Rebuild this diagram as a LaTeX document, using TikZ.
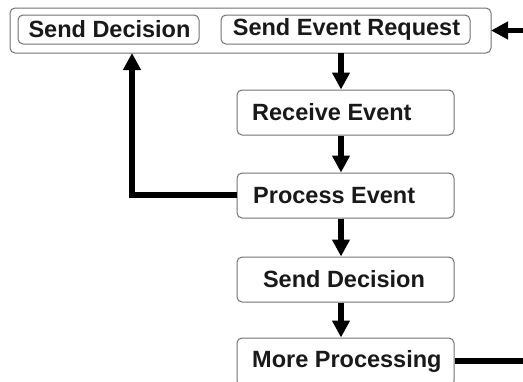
\documentclass[tikz,border=0pt]{standalone}
\usepackage{fontspec}
\setmainfont{Liberation Sans}
\usetikzlibrary{arrows.meta}
\begin{document}
\begin{tikzpicture}[x=1pt,y=-1pt,
  box/.style={draw=black!55,line width=1pt,rounded corners=5pt,fill=white},
  lbl/.style={font=\fontsize{23.5}{26}\selectfont\bfseries,inner sep=0pt,text=black!90},
  flow/.style={line width=5.5pt,-{Triangle[width=17pt,length=17pt]}},
  plain/.style={line width=5.5pt}]
\useasboundingbox (0,0) rectangle (523,381);
\clip (0,0) rectangle (523,381);
% top container
\draw[box] (10,8) rectangle (491,53);
\node[box,minimum width=181pt,minimum height=29pt] (sd1) at (108.5,29.5) {};
\node[lbl] at (109.5,29.5) {Send Decision};
\node[box,minimum width=249pt,minimum height=29pt] (ser) at (345.5,29.5) {};
\node[lbl] at (346.5,29.5) {Send Event Request};
\coordinate (top) at (491,30.5);
\coordinate (topS) at (341,53);
\coordinate (topSL) at (132,53);
% steps
\node[box,minimum width=217pt,minimum height=45pt] (re) at (345.5,112.5) {};
\node[lbl,anchor=west] at (252,112.5) {Receive Event};
\node[box,minimum width=217pt,minimum height=45pt] (pe) at (345.5,195.5) {};
\node[lbl,anchor=west] at (253,195.5) {Process Event};
\node[box,minimum width=217pt,minimum height=45pt] (sd2) at (345.5,279.5) {};
\node[lbl] at (344,279.5) {Send Decision};
\node[box,minimum width=217pt,minimum height=48pt] (mp) at (345.5,362) {};
\node[lbl,anchor=west] at (252,361) {More Processing};
% connectors
\coordinate (rin) at (523,30.5);
\coordinate (rout) at (523,361);
\coordinate (bend) at (132,195);
\draw[flow] (rin) -- (top);
\draw[flow] (topS) -- (re.north -| topS);
\draw[flow] (re.south -| topS) -- (pe.north -| topS);
\draw[flow] (pe.south -| topS) -- (sd2.north -| topS);
\draw[flow] (sd2.south -| topS) -- (mp.north -| topS);
\draw[flow] (pe.west |- bend) -- (bend) -- (topSL);
\draw[plain] (mp.east |- rout) -- (rout);
\end{tikzpicture}
\end{document}
